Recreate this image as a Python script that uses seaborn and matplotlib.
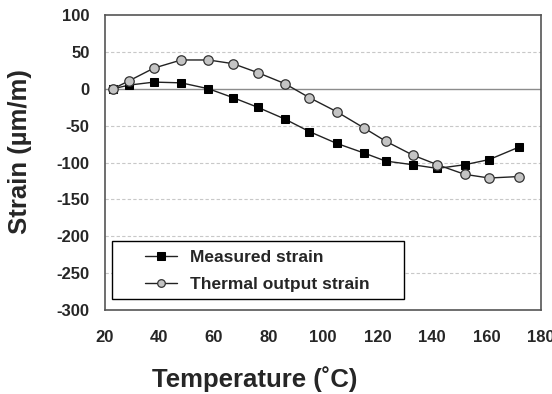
import numpy as np
import pandas as pd
import matplotlib
matplotlib.use("Agg")
import matplotlib.pyplot as plt
from matplotlib.patches import Rectangle
import seaborn as sns

temperature = [23, 29, 38, 48, 58, 67, 76, 86, 95, 105, 115, 123, 133, 142, 152, 161, 172]
measured = [0, 5, 9, 8, 0, -12, -25, -41, -58, -74, -87, -98, -103, -108, -103, -96, -79]
thermal = [0, 11, 28, 39, 39, 34, 22, 7, -12, -31, -53, -71, -90, -103, -116, -121, -119]
series_names = ["Measured strain", "Thermal output strain"]
x_ticks = [20, 40, 60, 80, 100, 120, 140, 160, 180]
y_ticks = [100, 50, 0, -50, -100, -150, -200, -250, -300]

df = pd.DataFrame({
    "Temperature": temperature * 2,
    "Strain": measured + thermal,
    "Series": [series_names[0]] * len(temperature) + [series_names[1]] * len(temperature),
})

sns.set_style("white")
plt.rcParams["font.family"] = ["Liberation Sans", "DejaVu Sans"]
plt.rcParams["axes.unicode_minus"] = False

fig = plt.figure(figsize=(5.52, 3.94), dpi=100)
ax = fig.add_axes([0.190, 0.213, 0.790, 0.749])

ax.axhline(0, color="#8c8c8c", lw=1.0, zorder=1)
for yv in y_ticks:
    if yv not in (0, 100, -300):
        ax.axhline(yv, color="#c8c8c8", lw=0.8, ls=(0, (3, 2)), zorder=0)

sns.lineplot(data=df, x="Temperature", y="Strain", hue="Series", style="Series",
             palette={series_names[0]: "#222222", series_names[1]: "#222222"},
             markers={series_names[0]: "s", series_names[1]: "o"},
             dashes=False, lw=1.0, ax=ax, zorder=3)

for ln in ax.lines:
    mk = ln.get_marker()
    if mk == "s":
        ln.set_markerfacecolor("black"); ln.set_markeredgecolor("black"); ln.set_markersize(6.3)
    elif mk == "o":
        ln.set_markerfacecolor("#c4c4c4"); ln.set_markeredgecolor("#333333"); ln.set_markersize(6.8)
        ln.set_markeredgewidth(0.9)

ax.set_xlim(20, 180)
ax.set_ylim(-300, 100)
ax.set_xticks(x_ticks)
ax.set_yticks(y_ticks)
ax.tick_params(length=0, labelsize=12)
ax.tick_params(axis="x", pad=14)
ax.tick_params(axis="y", pad=11)
for t in ax.get_xticklabels() + ax.get_yticklabels():
    t.set_fontweight("bold")
for s in ax.spines.values():
    s.set_color("#555555"); s.set_linewidth(1.2)

ax.set_xlabel("Temperature (˚C)", fontsize=18.5, fontweight="bold")
ax.set_ylabel("Strain (µm/m)", fontsize=18.5, fontweight="bold")
ax.xaxis.set_label_coords(0.344, -0.19)
ax.yaxis.set_label_coords(-0.167, 0.536)

h, l = ax.get_legend_handles_labels()
for hh in h:
    if hh.get_marker() == "s":
        hh.set_markerfacecolor("black"); hh.set_markeredgecolor("black"); hh.set_markersize(5.5)
    else:
        hh.set_markerfacecolor("#c4c4c4"); hh.set_markeredgecolor("#333333"); hh.set_markersize(5.5)
leg = ax.legend(h, l, loc="center left", bbox_to_anchor=(0.092, 0.132),
                frameon=False, prop={"weight": "bold", "size": 12.5},
                borderaxespad=0, borderpad=0, handlelength=1.84, labelspacing=0.7,
                handletextpad=0.75)
leg.set_zorder(6)
ax.add_patch(Rectangle((0.016, 0.037), 0.670, 0.197, transform=ax.transAxes,
                       facecolor="white", edgecolor="black", lw=1.0, zorder=5))

fig.savefig("out.png", dpi=100)
